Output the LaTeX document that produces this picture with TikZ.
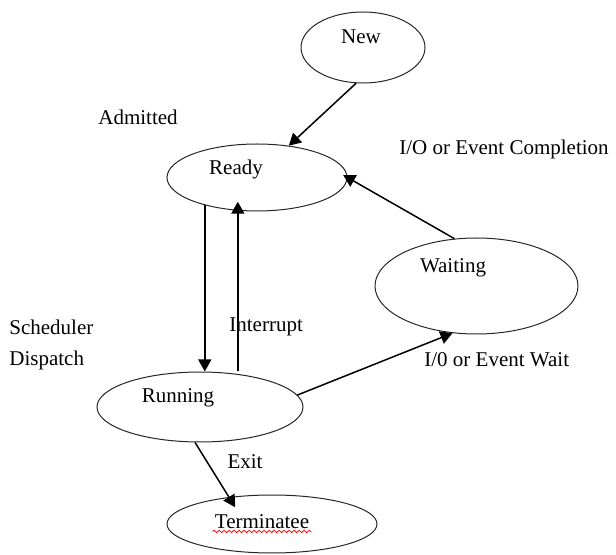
\documentclass[tikz,border=0pt]{standalone}
\usepackage{fontspec}
\setmainfont{Liberation Serif}
\usetikzlibrary{arrows.meta,positioning,shapes.geometric,decorations.pathmorphing}

\begin{document}
\begin{tikzpicture}[
  x=0.5pt,y=-0.5pt,
  font=\fontsize{10.5}{12}\selectfont,
  state/.style={ellipse,draw=black!85,line width=.5pt,inner sep=0pt},
  statetext/.style={inner sep=1pt},
  lbl/.style={inner sep=1pt},
  arrow/.style={-{Triangle[length=6pt,width=6.5pt]},line width=.75pt,draw=black}
]
\useasboundingbox (0,0) rectangle (616,555);

\node[state,minimum width=62pt,minimum height=35.5pt] (new) at (363,47.5) {};
\node[state,minimum width=90pt,minimum height=33.5pt] (ready) at (257,177.5) {};
\node[state,minimum width=101.5pt,minimum height=48pt] (waiting) at (476.5,286) {};
\node[state,minimum width=103pt,minimum height=35pt] (running) at (200,407) {};
\node[state,minimum width=105pt,minimum height=29pt] (term) at (272,524) {};

\node[statetext] (newtxt) at (361,37) {New};
\node[statetext] (readytxt) at (236,169) {Ready};
\node[statetext] (waittxt) at (453,268) {Waiting};
\node[statetext] (runtxt) at (178,398) {Running};
\node[statetext] (termtxt) at (262,522) {Terminatee};
\draw[red,line width=.4pt,decorate,decoration={snake,amplitude=.6pt,segment length=2.5pt}]
  (termtxt.south west) -- (termtxt.south east);

\node[lbl] (admit) at (138,117) {Admitted};
\node[lbl] (iocomp) at (504,149) {I/O or Event Completion};
\node[lbl,anchor=west] (sched) at (7,327) {Scheduler};
\node[lbl,anchor=west] (disp) at (7,360) {Dispatch};
\node[lbl,anchor=west] (intr) at (227,327) {Interrupt};
\node[lbl,anchor=west] (iowait) at (422,360) {I/0 or Event Wait};
\node[lbl] (exit) at (245,462) {Exit};

\draw[arrow] (new.259) -- (ready.45);
\draw[arrow] (ready.208) -- (ready.208 |- running.north);
\draw[arrow,shorten >=-4.5pt] (running.north -| ready.240) -- (ready.240);
\draw[arrow,shorten >=-2.5pt] (waiting.115) -- (ready.east);
\draw[arrow] (running.7) -- (waiting.243);
\draw[arrow,shorten >=-6pt] (running.262) -- (term.148);
\end{tikzpicture}
\end{document}
